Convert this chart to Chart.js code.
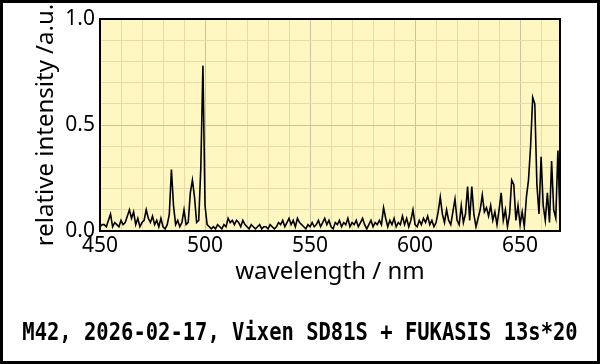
<!DOCTYPE html>
<html>
<head>
<meta charset="utf-8">
<script src="https://cdn.jsdelivr.net/npm/chart.js@4.4.1/dist/chart.umd.min.js"></script>
<style>
  html, body { margin: 0; padding: 0; background: #fff; }
  #wrap { position: relative; width: 600px; height: 364px; }
</style>
</head>
<body>
<div id="wrap"><canvas id="spectrum" width="600" height="364"></canvas></div>
<script>
// wavelength start / step (nm)
const startNm = 450;
const stepNm = 1;

// relative intensity, one value per nm from 450 nm
const intensity = [
  0.02, 0.03, 0.03, 0.02, 0.05, 0.08, 0.02, 0.04, 0.03, 0.02,   // 450
  0.05, 0.03, 0.04, 0.07, 0.10, 0.06, 0.09, 0.03, 0.06, 0.02,   // 460
  0.04, 0.05, 0.10, 0.06, 0.04, 0.07, 0.03, 0.05, 0.02, 0.06,   // 470
  0.02, 0.01, 0.03, 0.08, 0.29, 0.12, 0.03, 0.05, 0.02, 0.04,   // 480
  0.10, 0.03, 0.04, 0.18, 0.24, 0.16, 0.04, 0.05, 0.30, 0.78,   // 490
  0.12, 0.03, 0.02, 0.01, 0.02, 0.01, 0.03, 0.02, 0.01, 0.03,   // 500
  0.02, 0.06, 0.04, 0.05, 0.03, 0.05, 0.04, 0.02, 0.05, 0.03,   // 510
  0.02, 0.01, 0.03, 0.02, 0.01, 0.02, 0.03, 0.01, 0.02, 0.02,   // 520
  0.01, 0.03, 0.02, 0.01, 0.02, 0.04, 0.03, 0.05, 0.02, 0.04,   // 530
  0.06, 0.03, 0.05, 0.02, 0.06, 0.04, 0.03, 0.02, 0.01, 0.03,   // 540
  0.02, 0.04, 0.02, 0.03, 0.05, 0.02, 0.04, 0.06, 0.03, 0.05,   // 550
  0.02, 0.01, 0.04, 0.03, 0.05, 0.02, 0.04, 0.03, 0.06, 0.02,   // 560
  0.04, 0.03, 0.05, 0.02, 0.04, 0.06, 0.03, 0.01, 0.03, 0.05,   // 570
  0.02, 0.04, 0.03, 0.05, 0.03, 0.11, 0.06, 0.02, 0.05, 0.03,   // 580
  0.06, 0.02, 0.04, 0.03, 0.07, 0.03, 0.06, 0.02, 0.05, 0.10,   // 590
  0.03, 0.02, 0.05, 0.03, 0.06, 0.04, 0.07, 0.03, 0.05, 0.02,   // 600
  0.04, 0.09, 0.16, 0.08, 0.04, 0.10, 0.05, 0.03, 0.09, 0.15,   // 610
  0.05, 0.03, 0.12, 0.04, 0.08, 0.21, 0.05, 0.21, 0.08, 0.02,   // 620
  0.06, 0.10, 0.17, 0.09, 0.11, 0.07, 0.12, 0.05, 0.09, 0.03,   // 630
  0.10, 0.18, 0.05, 0.10, 0.02, 0.08, 0.24, 0.22, 0.05, 0.12,   // 640
  0.03, 0.09, 0.02, 0.16, 0.24, 0.40, 0.63, 0.60, 0.22, 0.08,   // 650
  0.35, 0.12, 0.05, 0.18, 0.04, 0.33, 0.10, 0.06, 0.38, 0.06    // 660
];

const wavelengths = intensity.map((v, i) => startNm + i * stepNm);

const xTicks = [450, 500, 550, 600, 650];
const yTicks = [0.0, 0.5, 1.0];

const footerText = 'M42, 2026-02-17, Vixen SD81S + FUKASIS 13s*20';

// plot background, frame, outer border and footer line
const decor = {
  id: 'decor',
  beforeDraw(chart) {
    const {ctx, chartArea: a} = chart;
    ctx.save();
    ctx.fillStyle = '#fff7c2';
    ctx.fillRect(a.left, a.top, a.right - a.left, a.bottom - a.top);
    ctx.restore();
  },
  afterDraw(chart) {
    const {ctx, chartArea: a} = chart;
    ctx.save();
    ctx.strokeStyle = '#000';
    ctx.lineWidth = 2;
    ctx.strokeRect(a.left, a.top, a.right - a.left, a.bottom - a.top);
    ctx.lineWidth = 3;
    ctx.strokeRect(1.5, 1.5, chart.width - 3, chart.height - 3);
    // footer: bold mono, stretched a little taller like the original
    ctx.fillStyle = '#000';
    ctx.font = 'bold 20.5px "DejaVu Sans Mono"';
    ctx.textAlign = 'center';
    ctx.textBaseline = 'middle';
    ctx.translate(chart.width / 2, 333);
    ctx.scale(1, 1.25);
    ctx.fillText(footerText, 0, 0);
    ctx.restore();
  }
};

const ctx = document.getElementById('spectrum').getContext('2d');
new Chart(ctx, {
  type: 'line',
  data: {
    datasets: [{
      data: wavelengths.map((w, i) => ({x: w, y: intensity[i]})),
      borderColor: '#000',
      borderWidth: 1.6,
      pointRadius: 0,
      tension: 0,
      fill: false
    }]
  },
  options: {
    responsive: false,
    animation: false,
    events: [],
    layout: { padding: { left: 32, right: 40, top: 19, bottom: 77 } },
    plugins: { legend: { display: false }, tooltip: { enabled: false } },
    scales: {
      x: {
        type: 'linear',
        min: 450,
        max: 669,
        afterFit(scale) { scale.height = 287 - 231; },
        afterBuildTicks(scale) {
          const t = [];
          for (let v = 450; v <= 669; v += 10) t.push({value: v});
          scale.ticks = t;
        },
        ticks: {
          autoSkip: false,
          maxRotation: 0,
          padding: 2,
          color: '#000',
          font: { family: '"Noto Sans"', size: 21 },
          callback: v => xTicks.includes(v) ? String(v) : ''
        },
        grid: {
          drawTicks: false,
          color: c => (c.tick && c.tick.value % 50 === 0) ? '#c9c2a4' : '#e8dca6',
          lineWidth: 1
        },
        border: { display: false },
        title: {
          display: true,
          text: 'wavelength / nm',
          color: '#000',
          padding: 0,
          font: { family: '"Noto Sans"', size: 24 }
        }
      },
      y: {
        min: 0,
        max: 1,
        afterFit(scale) { scale.width = 100 - 32; },
        afterBuildTicks(scale) {
          const t = [];
          for (let i = 0; i <= 10; i++) t.push({value: i / 10});
          scale.ticks = t;
        },
        ticks: {
          autoSkip: false,
          padding: 5,
          color: '#000',
          font: { family: '"Noto Sans"', size: 21 },
          callback: v => yTicks.some(t => Math.abs(t - v) < 1e-6) ? v.toFixed(1) : ''
        },
        grid: {
          drawTicks: false,
          color: c => (c.tick && Math.abs(c.tick.value - 0.5) < 1e-6) ? '#c9c2a4' : '#e8dca6',
          lineWidth: 1
        },
        border: { display: false },
        title: {
          display: true,
          text: 'relative intensity /a.u.',
          color: '#000',
          padding: 0,
          font: { family: '"Noto Sans"', size: 24 }
        }
      }
    }
  },
  plugins: [decor]
});
</script>
</body>
</html>
